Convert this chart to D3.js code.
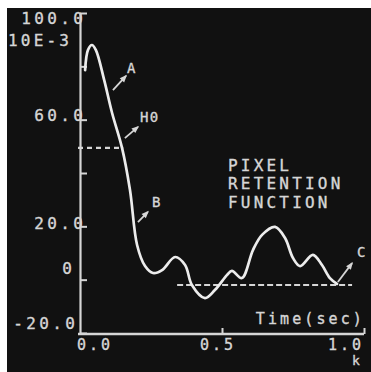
<!DOCTYPE html>
<html>
<head>
<meta charset="utf-8">
<script src="https://cdn.jsdelivr.net/npm/d3@7"></script>
<style>
  html, body { margin: 0; padding: 0; background: #fff; }
  svg { display: block; }
  text { font-family: "DejaVu Sans Mono", "Liberation Mono", monospace; fill: #d6d6d6;
         stroke: #d6d6d6; stroke-width: 0.35; }
</style>
</head>
<body>
<svg id="chart" width="371" height="372"></svg>
<script>
// Pixel retention response, time in seconds, amplitude in units of 10E-3
const timeSec = [0.018, 0.028, 0.042, 0.056, 0.085, 0.113, 0.148, 0.176, 0.201,
                 0.229, 0.257, 0.289, 0.335, 0.370, 0.394, 0.440, 0.475, 0.518,
                 0.535, 0.570, 0.609, 0.641, 0.687, 0.722, 0.750, 0.775, 0.820, 0.852,
                 0.880, 0.905];
const retention = [78.6, 86.1, 88.0, 86.1, 74.9, 62.5, 49.4, 33.6, 13.0,
                   5.1, 2.5, 3.6, 8.5, 5.5, -2.0, -6.9, -3.9, 1.8,
                   3.3, 0.6, 11.1, 16.8, 19.8, 15.6, 8.1, 5.1, 9.3, 5.5,
                   0.6, -1.6];

// Axis ticks
const yTickValues = [100, 80, 60, 40, 20, 0, -20];
const yTickLabels = ["100.0", "", "60.0", "", "20.0", "0", "-20.0"];
const xTickValues = [0, 0.5, 1.0];
const xTickLabels = ["0.0", "0.5", "1.0"];

// Reference levels
const h0Level = 49.4;
const h0Span = [0, 0.152];
const cLevel = -2.0;
const cSpan = [0.342, 0.958];

// Annotations: [label, arrow tail t, tail v, head t, head v, label t, label v]
const annotations = [
  ["A",  0.116, 71.1, 0.162, 76.4, 0.183, 79.4],
  ["H0", 0.158, 53.1, 0.204, 57.3, 0.246, 61.0],
  ["B",  0.204, 21.6, 0.239, 25.4, 0.271, 29.1],
  ["C",  0.908, -0.9, 0.958, 6.2, 0.993, 10.4]
];

const titleLines = ["PIXEL", "RETENTION", "FUNCTION"];

const svg = d3.select("#chart");
const ink = "#d6d6d6";
const trace = "#ececec";

// Screen
svg.append("rect").attr("x", 7).attr("y", 8).attr("width", 364).attr("height", 364)
  .attr("fill", "#111111");

const x = d3.scaleLinear().domain([0, 1]).range([80, 364]);
const y = d3.scaleLinear().domain([-20, 100]).range([333, 13]);

// Y axis with inward ticks
const yAxis = svg.append("g").attr("transform", `translate(${x(0)},0)`)
  .call(d3.axisRight(y).tickValues(yTickValues).tickSize(7).tickSizeOuter(0).tickFormat(""));
yAxis.select(".domain").attr("stroke", ink).attr("stroke-width", 2.2);
yAxis.selectAll(".tick line").attr("stroke", ink).attr("stroke-width", 2);

// X axis with inward ticks
const xAxis = svg.append("g").attr("transform", `translate(0,${y(-20) + 1})`)
  .call(d3.axisTop(x).tickValues([0.5, 1.0]).tickSize(6).tickSizeOuter(0).tickFormat(""));
xAxis.select(".domain").attr("stroke", ink).attr("stroke-width", 2.4)
  .attr("d", `M${x(0) - 2},0H${x(1)}`);
xAxis.selectAll(".tick line").attr("stroke", ink).attr("stroke-width", 2);

// Y tick labels
const yNudge = { "100.0": [3, 5], "60.0": [3, -4], "20.0": [3, -3], "0": [-8, -11], "-20.0": [-5, -10] };
yTickValues.forEach((v, i) => {
  const lab = yTickLabels[i];
  if (!lab) return;
  const n = yNudge[lab] || [0, 0];
  svg.append("text").attr("x", x(0) + n[0] + 3.4).attr("y", y(v) + n[1])
    .attr("text-anchor", "end").attr("dominant-baseline", "central")
    .attr("font-size", 16).attr("letter-spacing", 3.4).text(lab);
});
svg.append("text").attr("x", 8).attr("y", 40).attr("dominant-baseline", "central")
  .attr("font-size", 16).attr("letter-spacing", 3.2).text("10E-3");

// X tick labels
const xAnchor = ["start", "middle", "end"];
const xShift = [-3, -4, 0];
xTickValues.forEach((t, i) => {
  svg.append("text").attr("x", x(t) + xShift[i]).attr("y", 345)
    .attr("text-anchor", xAnchor[i]).attr("dominant-baseline", "central")
    .attr("font-size", 15).attr("letter-spacing", 3).text(xTickLabels[i]);
});
svg.append("text").attr("x", 356).attr("y", 360).attr("text-anchor", "middle")
  .attr("dominant-baseline", "central").attr("font-size", 13).text("k");
svg.append("text").attr("x", 365).attr("y", 319).attr("text-anchor", "end")
  .attr("dominant-baseline", "central").attr("font-size", 15).attr("letter-spacing", 3.1)
  .text("Time(sec)");

// Title block
titleLines.forEach((s, i) => {
  svg.append("text").attr("x", 228).attr("y", 165 + i * 18.5).attr("dominant-baseline", "central")
    .attr("font-size", 16).attr("letter-spacing", 3.2).text(s);
});

// Reference levels (dashed)
svg.append("line").attr("x1", x(h0Span[0]) - 2).attr("x2", x(h0Span[1]))
  .attr("y1", y(h0Level)).attr("y2", y(h0Level))
  .attr("stroke", ink).attr("stroke-width", 2.2).attr("stroke-dasharray", "5,4");
svg.append("line").attr("x1", x(cSpan[0])).attr("x2", x(cSpan[1]))
  .attr("y1", y(cLevel)).attr("y2", y(cLevel))
  .attr("stroke", ink).attr("stroke-width", 2.2).attr("stroke-dasharray", "6,3");

// Response trace
const pts = timeSec.map((t, i) => [t, retention[i]]);
svg.append("path").datum(pts)
  .attr("d", d3.line().x(d => x(d[0])).y(d => y(d[1])).curve(d3.curveCatmullRom.alpha(0.5)))
  .attr("fill", "none").attr("stroke", trace).attr("stroke-width", 2.7)
  .attr("stroke-linejoin", "round").attr("stroke-linecap", "round");

// Annotation arrows and labels
annotations.forEach(a => {
  const [lab, t0, v0, t1, v1, tl, vl] = a;
  const x0 = x(t0), y0 = y(v0), x1 = x(t1), y1 = y(v1);
  svg.append("line").attr("x1", x0).attr("y1", y0).attr("x2", x1).attr("y2", y1)
    .attr("stroke", ink).attr("stroke-width", 1.8);
  const ang = Math.atan2(y1 - y0, x1 - x0);
  const L = 6, W = 3;
  const bx = x1 - L * Math.cos(ang), by = y1 - L * Math.sin(ang);
  const px = -Math.sin(ang) * W, py = Math.cos(ang) * W;
  svg.append("path")
    .attr("d", `M${x1 + Math.cos(ang) * 1.5},${y1 + Math.sin(ang) * 1.5}L${bx + px},${by + py}L${bx - px},${by - py}Z`)
    .attr("fill", ink);
  svg.append("text").attr("x", x(tl)).attr("y", y(vl)).attr("text-anchor", "middle")
    .attr("dominant-baseline", "central").attr("font-size", 14).attr("letter-spacing", 1.5)
    .text(lab);
});
</script>
</body>
</html>
